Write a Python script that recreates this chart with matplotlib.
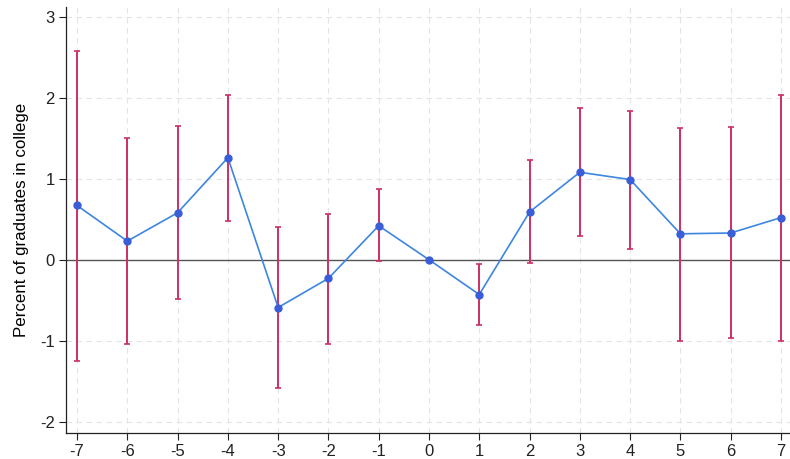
import numpy as np
import matplotlib
matplotlib.use('Agg')
import matplotlib.pyplot as plt

plt.rcParams['font.family'] = ['Liberation Sans', 'DejaVu Sans']
plt.rcParams['axes.unicode_minus'] = False

# Event-time coefficients with 95% confidence bounds
periods = [-7, -6, -5, -4, -3, -2, -1, 0, 1, 2, 3, 4, 5, 6, 7]
coef = [0.67, 0.23, 0.58, 1.26, -0.59, -0.23, 0.42, 0.0, -0.43, 0.59, 1.08, 0.99, 0.32, 0.33, 0.52]
ci_low = [-1.25, -1.04, -0.48, 0.48, -1.58, -1.04, -0.02, 0.0, -0.81, -0.04, 0.29, 0.13, -1.00, -0.97, -1.00]
ci_high = [2.58, 1.50, 1.65, 2.04, 0.41, 0.56, 0.87, 0.0, -0.05, 1.23, 1.87, 1.84, 1.63, 1.64, 2.04]

x = np.array(periods)
y = np.array(coef)
lo = np.array(ci_low)
hi = np.array(ci_high)

fig = plt.figure(figsize=(7.9, 4.59), dpi=100)
ax = fig.add_axes([0.0835, 0.0566, 0.9165, 0.928])

# light dashed grid in both directions
for v in periods:
    ax.axvline(v, color='#e4e4e4', lw=0.8, ls=(0, (5, 4)), zorder=0)
for v in [-2, -1, 1, 2, 3]:
    ax.axhline(v, color='#e4e4e4', lw=0.8, ls=(0, (5, 4)), zorder=0)
ax.axhline(0, color='#555555', lw=1.0, zorder=1)

has_ci = hi > lo
ax.errorbar(x[has_ci], y[has_ci], yerr=[y[has_ci] - lo[has_ci], hi[has_ci] - y[has_ci]],
            fmt='none', ecolor='#cc2f65', elinewidth=1.4, capsize=2.5, capthick=1.2, zorder=2)
ax.plot(x, y, color='#3d86e0', lw=1.2, marker='o', ms=5,
        markerfacecolor='#3a5ed8', markeredgecolor='#3a5ed8', zorder=3)

ax.set_xlim(-7.22, 7.18)
ax.set_ylim(-2.14, 3.12)
ax.set_xticks(periods)
ax.set_yticks([-2, -1, 0, 1, 2, 3])
ax.tick_params(labelsize=12, length=5, width=0.8, colors='#222222', pad=3)
ax.set_ylabel('Percent of graduates in college', fontsize=12.2, labelpad=8)

for s in ['top', 'right']:
    ax.spines[s].set_visible(False)
for s in ['left', 'bottom']:
    ax.spines[s].set_color('#222222')
    ax.spines[s].set_linewidth(0.9)

fig.savefig('out.png', dpi=100)
